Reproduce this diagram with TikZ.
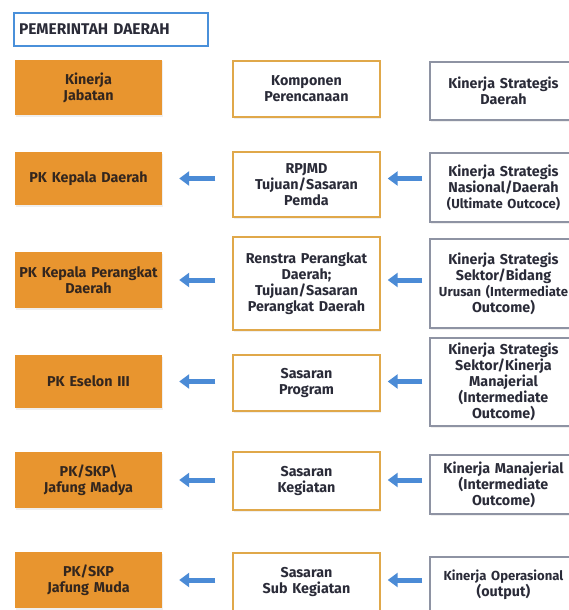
\documentclass[tikz,border=0pt]{standalone}
\usepackage{fontspec}
\setmainfont{Fira Sans}
\usetikzlibrary{arrows.meta,shadows}
\definecolor{orangefill}{HTML}{E8952F}
\definecolor{midborder}{HTML}{E0A84A}
\definecolor{rightborder}{HTML}{8E93A3}
\definecolor{blueborder}{HTML}{4A90DA}
\definecolor{arrowblue}{HTML}{4B8BD6}
\definecolor{darktext}{HTML}{2A2B38}
\definecolor{orangetext}{HTML}{33261E}
\newcommand{\tighttext}[1]{{\fontsize{13.1}{16}\selectfont #1}}
\tikzset{
  basebox/.style={rectangle, inner sep=0pt, align=center, minimum width=147pt, text width=147pt,
    font=\fontsize{14.3}{16}\selectfont\bfseries,
    drop shadow={opacity=0.12, shadow xshift=0.8pt, shadow yshift=-1.5pt}},
  jabbox/.style={basebox, fill=orangefill, text=orangetext},
  midbox/.style={basebox, draw=midborder, line width=1.4pt, fill=white, text=darktext},
  rightbox/.style={basebox, draw=rightborder, line width=1.3pt, fill=white, text=darktext},
  headbox/.style={rectangle, draw=blueborder, line width=1.4pt, fill=white, text=darktext,
    inner sep=0pt, minimum width=194pt, minimum height=33pt, text width=184pt, align=left,
    font=\fontsize{15.5}{17}\selectfont\bfseries},
  flowarrow/.style={draw=arrowblue, line width=5pt, -{Triangle[length=10pt,width=14pt]}}
}
\begin{document}
\begin{tikzpicture}[x=1pt,y=-1pt]
\useasboundingbox[fill=white] (0,0) rectangle (569,610);

\node[headbox] (head) at (111,29.5) {PEMERINTAH DAERAH};

% row 0
\node[jabbox, minimum height=55pt] (o0) at (88.5,87.5) {Kinerja\\Jabatan};
\node[midbox, minimum height=56pt] (m0) at (306.5,89) {Komponen\\Perencanaan};
\node[rightbox, minimum height=58pt] (r0) at (503.5,91) {Kinerja Strategis\\Daerah};

% row 1
\node[jabbox, minimum height=53pt] (o1) at (88.5,178.5) {PK Kepala Daerah};
\node[midbox, minimum height=65pt] (m1) at (306.5,184.5) {RPJMD\\Tujuan/Sasaran\\Pemda};
\node[rightbox, minimum height=69pt] (r1) at (503.5,187.5) {Kinerja Strategis\\Nasional/Daerah\\\tighttext{(Ultimate Outcoce)}};

% row 2
\node[jabbox, minimum height=56pt] (o2) at (88.5,280) {PK Kepala Perangkat\\Daerah};
\node[midbox, minimum height=93pt] (m2) at (306.5,283.5) {Renstra Perangkat\\Daerah;\\Tujuan/Sasaran\\Perangkat Daerah};
\node[rightbox, minimum height=89pt] (r2) at (503.5,283.5) {Kinerja Strategis\\Sektor/Bidang\\\tighttext{Urusan (Intermediate}\\Outcome)};

% row 3
\node[jabbox, minimum height=53pt] (o3) at (88.5,381.5) {PK Eselon III};
\node[midbox, minimum height=56pt] (m3) at (306.5,383) {Sasaran\\Program};
\node[rightbox, minimum height=88pt, font=\fontsize{14.3}{13.5}\selectfont\bfseries] (r3) at (503.5,382) {Kinerja Strategis\\Sektor/Kinerja\\Manajerial\\(Intermediate\\Outcome)};

% row 4
\node[jabbox, minimum height=56pt] (o4) at (88.5,480) {PK/SKP\textbackslash\\Jafung Madya};
\node[midbox, minimum height=58pt] (m4) at (306.5,481) {Sasaran\\Kegiatan};
\node[rightbox, minimum height=59pt] (r4) at (503.5,484.5) {Kinerja Manajerial\\(Intermediate\\Outcome)};

% row 5
\node[jabbox, minimum height=56pt] (o5) at (88.5,580) {PK/SKP\\Jafung Muda};
\node[midbox, minimum height=58pt] (m5) at (306.5,582) {Sasaran\\Sub Kegiatan};
\node[rightbox, minimum height=56pt] (r5) at (503.5,585) {\tighttext{Kinerja Operasional}\\(output)};

% arrows
\foreach \i in {1,...,5}{
  \draw[flowarrow, shorten <=17pt, shorten >=17pt] (o\i.east -| m\i.west) -- (o\i.east);
  \draw[flowarrow, shorten <=7pt, shorten >=7pt] (o\i.east -| r\i.west) -- (o\i.east -| m\i.east);
}
\end{tikzpicture}
\end{document}
